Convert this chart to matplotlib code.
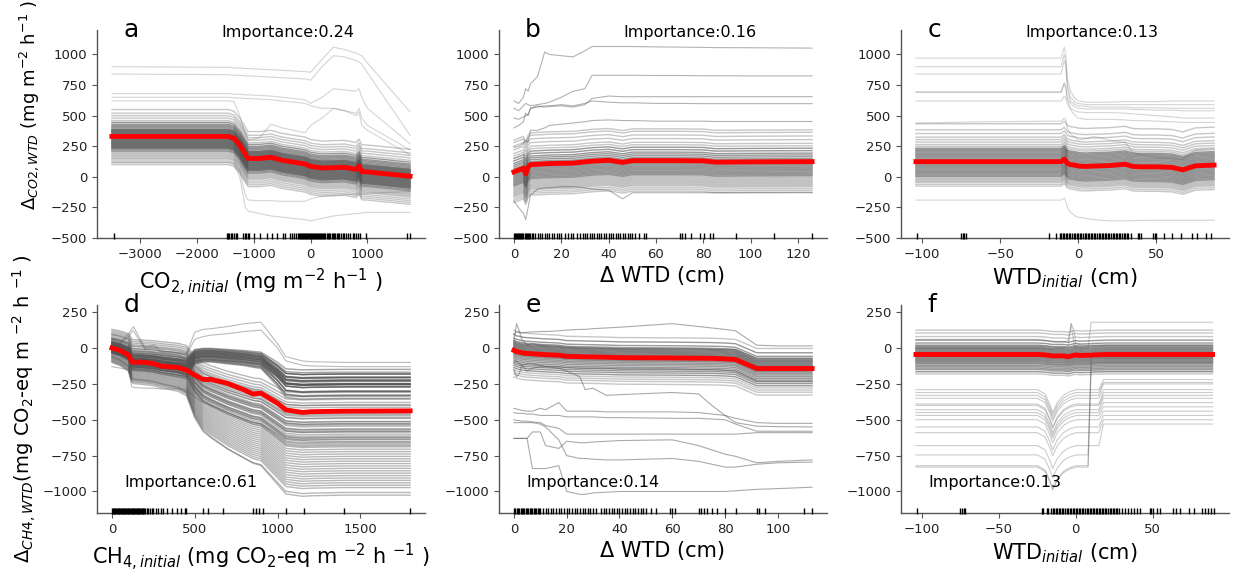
import numpy as np
import matplotlib
matplotlib.use("Agg")
import matplotlib.pyplot as plt

# ---------------- panel a : CO2 initial ----------------
XA = [-3500, -1450, -1350, -1250, -1150, -1100, -900, -700, -500, -300, -100, 0, 200, 400, 600, 800, 850, 900, 1000, 1750]
MEAN_A = [330, 330, 315, 260, 185, 150, 150, 160, 135, 120, 105, 85, 72, 75, 78, 60, 88, 42, 40, 5]
OFF_A = [-230, -215, -200, -185, -170, -160, -150, -140, -130, -120, -110, -100, -95, -90, -85, -80,
         -75, -70, -65, -60, -55, -50, -45, -40, -35, -30, -25, -20, -15, -10, -5, 0, 5, 10, 15, 20,
         25, 30, 35, 40, 45, 50, 55, 60, 70, 80, 90, 100, 115, 130, 150, 170, 190, 220]
A_OUT1 = [900, 895, 890, 890, 885, 885, 880, 875, 870, 865, 860, 855, 960, 1060, 1040, 1010, 1000, 990, 930, 530]
A_OUT2 = [840, 835, 830, 830, 825, 825, 820, 815, 810, 805, 800, 790, 900, 990, 980, 950, 940, 920, 850, 340]
A_OUT3 = [680, 680, 675, 675, 670, 670, 665, 660, 650, 640, 630, 600, 650, 720, 710, 700, 720, 650, 560, 270]
A_OUT4 = [650, 650, 645, 645, 640, 640, 635, 630, 620, 610, 600, 580, 560, 560, 540, 520, 560, 480, 420, 220]
A_OUT5 = [620, 620, 615, 500, 350, 300, 320, 430, 400, 380, 360, 420, 480, 560, 540, 500, 530, 420, 380, 180]
A_OUT6 = [120, 120, 110, 0, -250, -280, -300, -320, -330, -340, -350, -360, -340, -320, -310, -300, -300, -295, -290, -290]
A_OUT7 = [150, 150, 140, 50, -150, -190, -195, -195, -200, -200, -200, -180, -160, -150, -145, -140, -140, -140, -135, -120]
RUG_A = [-3470, -1480, -1455, -1430, -1405, -1380, -1350, -1320, -1290, -1190, -1165, -1140, -1110, -1080,
         -1000, -890, -770, -680, -600, -495, -460, -360, -330, -300, -250, -230, -210, -190, -170, -150,
         -130, -110, -95, -80, -60, -40, -25, -10, 5, 20, 40, 55, 70, 90, 110, 130, 145, 160, 180, 200,
         220, 240, 260, 280, 300, 320, 345, 370, 390, 410, 430, 460, 480, 500, 530, 560, 590, 620, 660,
         700, 740, 770, 800, 830, 860, 980, 1690, 1740]

# ---------------- panel b : delta WTD (CO2) ----------------
XB = [0, 2, 4, 5, 6, 7, 10, 13, 15, 20, 25, 30, 33, 40, 46, 50, 60, 70, 80, 85, 100, 126]
MEAN_B = [40, 55, 70, 25, 80, 100, 103, 106, 108, 110, 112, 122, 128, 135, 118, 132, 132, 132, 130, 120, 122, 124]
OFF_B = [-250, -235, -220, -205, -195, -185, -175, -165, -155, -145, -135, -125, -115, -105, -95, -85,
         -75, -65, -55, -45, -35, -25, -15, -5, 5, 15, 25, 40, 55, 70, 90, 110, 130, 150, 180, 210, 240, 260]
B_OUT1 = [620, 600, 650, 720, 700, 760, 820, 1020, 1000, 990, 980, 1030, 1065, 1065, 1065, 1065, 1062, 1060, 1058, 1056, 1055, 1052]
B_OUT2 = [560, 540, 580, 600, 590, 580, 590, 600, 610, 650, 700, 720, 830, 830, 830, 830, 828, 828, 826, 826, 825, 825]
B_OUT3 = [400, 420, 450, 520, 500, 560, 580, 570, 575, 580, 570, 590, 640, 660, 655, 655, 655, 655, 655, 655, 655, 655]
B_OUT4 = [480, 470, 490, 500, 510, 560, 570, 580, 580, 590, 580, 600, 620, 610, 605, 605, 600, 600, 598, 598, 598, 598]
B_OUT5 = [240, 250, 270, 300, 280, 380, 380, 400, 420, 430, 440, 450, 460, 465, 460, 460, 455, 455, 455, 452, 452, 452]
B_OUT6 = [-200, -250, -300, -350, -250, -150, -100, -90, -90, -80, -80, -90, -100, -110, -180, -130, -130, -130, -130, -130, -130, -130]
RUG_B = [0, 0.4, 0.8, 1.2, 1.6, 2, 2.5, 3, 3.5, 4, 4.5, 5, 5.5, 6, 6.5, 7, 7.5, 8, 9, 10, 11, 12, 13, 14,
         15, 16, 17, 18, 19, 20, 21.5, 23, 24, 25, 26.5, 28, 29, 30, 31, 32, 33, 34, 35, 36, 37, 38, 39,
         40, 41, 42, 43, 44, 45, 46, 47, 48, 49, 50, 51, 53, 55, 56, 70, 71, 72.5, 75, 78.5, 80.5, 83, 84,
         94, 110, 126]

# ---------------- panel c : WTD initial (CO2) ----------------
XC = [-104, -60, -11, -9, -8, -7, -5, -2, 0, 5, 10, 20, 30, 35, 40, 50, 60, 67, 70, 75, 87]
MEAN_C = [124, 124, 124, 145, 130, 110, 100, 95, 88, 85, 88, 92, 103, 85, 82, 82, 77, 57, 70, 90, 96]
OFF_C = [-200, -185, -170, -160, -150, -140, -130, -120, -110, -100, -90, -80, -70, -60, -50, -40, -30,
         -20, -10, 0, 10, 20, 30, 40, 50, 60, 70, 80, 90, 100, 110, 125, 140, 160, 180, 200, 230, 260, 310]
C_OUT1 = [970, 970, 970, 1060, 1000, 800, 700, 640, 620, 610, 610, 610, 615, 615, 615, 615, 620, 620, 620, 620, 620]
C_OUT2 = [900, 900, 900, 1000, 950, 760, 650, 610, 600, 590, 590, 590, 590, 590, 590, 590, 590, 590, 590, 590, 590]
C_OUT3 = [840, 840, 840, 950, 900, 720, 620, 590, 580, 575, 570, 570, 570, 565, 565, 565, 560, 560, 560, 560, 560]
C_OUT4 = [690, 690, 690, 770, 740, 650, 600, 570, 560, 555, 555, 555, 555, 550, 550, 545, 545, 540, 540, 540, 540]
C_OUT5 = [695, 695, 695, 760, 720, 630, 560, 540, 530, 525, 525, 525, 520, 515, 510, 500, 490, 480, 480, 480, 480]
C_OUT6 = [620, 620, 620, 660, 640, 600, 550, 500, 480, 470, 470, 470, 465, 460, 460, 455, 450, 445, 445, 445, 445]
C_OUT7 = [-190, -190, -190, -175, -200, -250, -290, -320, -330, -340, -350, -360, -360, -358, -356, -355, -355, -355, -355, -355, -355]
C_OUT8 = [440, 450, 455, 480, 470, 400, 350, 320, 300, 310, 330, 300, 280, 200, 180, 160, 150, 140, 170, 220, 230]
RUG_C = [-103, -75, -74, -73, -72, -19, -14, -12, -11, -10, -9, -8, -7, -6, -5, -4, -3, -2, -1, 0, 1, 2, 3,
         4, 5, 6, 7, 8, 9, 10, 11, 12, 13, 14, 15, 16, 17, 18, 19, 20, 21, 22, 23, 24, 25, 26, 27, 28, 29,
         30, 31, 32, 34, 38, 39, 40, 48, 49, 50, 55, 60, 66, 73, 76, 82, 85]

# ---------------- panel d : CH4 initial ----------------
XD = [0, 50, 100, 120, 130, 200, 250, 300, 400, 450, 500, 550, 600, 700, 800, 850, 900, 1000, 1050, 1150, 1200, 1400, 1800]
MEAN_D = [0, -16, -50, -97, -97, -100, -108, -127, -136, -154, -189, -219, -219, -247, -293, -320, -315, -385, -431, -449, -444, -440, -438]
PROF_D_UP = [60, 45, 20, -30, -35, -40, -45, -55, -70, -80, 0, 10, 10, 0, -10, -18, -25, -120, -180, -190, -188, -185, -185]
PROF_D_LO = [0, -15, -40, -90, -95, -100, -105, -115, -130, -150, -250, -310, -340, -390, -430, -450, -460, -540, -580, -590, -588, -585, -585]
UP_START = [-110, -105, -100, -95, -90, -85, -80, -76, -72, -68, -64, -60, -56, -52, -48, -44, -40, -36,
            -32, -28, -24, -20, -15, -10, -70, -50, -30, -90, -60, -40]
UP_SCALE = [1.3, 1.2, 1.25, 1.1, 1.15, 1.0, 1.2, 1.05, 0.95, 1.1, 1.0, 0.9, 1.05, 0.95, 1.0, 0.85, 0.9,
            1.0, 0.8, 0.95, 0.85, 0.8, 0.9, 0.75, 1.0, 1.1, 1.2, 0.9, 0.8, 1.0]
LO_START = [130, 120, 110, 100, 95, 90, 80, 70, 65, 60, 50, 45, 40, 30, 25, 20, 10, 5, 0, -5, -10, -15,
            -20, -25, -30, -35, -40, -45, -50, -55, -60, -65, -70, -75, -80, -85, -90, -95, -100, -60,
            60, 40, 20, 0, -20, 50, 30, 10, -10, -30, 70, 35, 15, -5, -25]
LO_SCALE = [0.75, 0.78, 0.8, 0.82, 0.84, 0.86, 0.88, 0.9, 0.92, 0.94, 0.96, 0.98, 1.0, 1.02, 1.04, 1.06,
            1.08, 1.1, 1.12, 1.14, 1.16, 1.18, 1.2, 1.22, 1.24, 1.26, 1.28, 1.3, 1.32, 1.34, 1.36, 1.38,
            1.4, 1.42, 1.44, 1.46, 1.48, 1.5, 1.55, 1.65,
            0.85, 0.9, 0.95, 1.0, 1.05, 0.88, 0.93, 0.98, 1.03, 1.08, 0.8, 0.96, 1.01, 1.06, 1.12]
D_OUT1 = [60, 40, 100, 130, 150, 0, 20, -20, -30, -40, 110, 130, 135, 150, 170, 175, 180, 30, -60, -90, -95, -100, -100]
D_OUT2 = [40, 30, 80, 110, 120, -10, 0, -30, -40, -50, 60, 80, 90, 100, 115, 120, 125, 0, -90, -120, -125, -130, -130]
D_OUT3 = [-130, -140, -150, -270, -275, -280, -280, -285, -285, -290, -340, -380, -400, -450, -500, -520, -530, -600, -640, -650, -650, -650, -650]
RUG_D = [0, 5, 10, 15, 20, 25, 30, 35, 40, 45, 50, 55, 60, 65, 70, 75, 80, 85, 90, 95, 100, 105, 110, 115, 120,
         125, 130, 135, 140, 145, 150, 155, 160, 165, 170, 175, 180, 185, 190, 195, 200, 210, 220, 230, 240,
         250, 265, 280, 295, 310, 330, 360, 390, 420, 440, 450, 550, 580, 670, 850, 870, 890, 910, 1050, 1160,
         1400, 1800]

# ---------------- panel e : delta WTD (CH4) ----------------
XE = [0, 1, 2, 3, 5, 7, 10, 12, 17, 20, 25, 27, 30, 35, 40, 60, 70, 75, 80, 84, 92, 100, 113]
MEAN_E = [-16, -25, -28, -33, -38, -40, -44, -46, -50, -58, -60, -61, -62, -64, -67, -69, -71, -72, -75, -80, -143, -143, -143]
OFF_E = [-185, -165, -150, -135, -120, -105, -92, -80, -68, -56, -45, -35, -25, -18, -10, -4, 2, 8, 14, 20,
         26, 32, 38, 44, 50, 56, 62, 70, 85, 110, 140]
E_OUT1 = [100, 110, 110, 105, 110, 112, 115, 115, 120, 125, 130, 130, 135, 140, 145, 170, 150, 140, 130, 120, 20, 15, 15]
E_OUT2 = [-100, -90, -110, -120, -110, -110, -120, -130, -140, -160, -200, -290, -280, -330, -325, -310, -320, -400, -470, -520, -545, -548, -550]
E_OUT3 = [-420, -425, -430, -435, -440, -440, -420, -430, -380, -440, -440, -440, -440, -445, -445, -445, -450, -460, -470, -490, -520, -525, -525]
E_OUT4 = [-450, -455, -455, -455, -460, -460, -470, -470, -470, -480, -480, -480, -480, -485, -485, -490, -490, -495, -500, -530, -580, -580, -580]
E_OUT5 = [-500, -505, -505, -510, -510, -515, -520, -540, -560, -600, -600, -600, -600, -600, -600, -600, -600, -600, -600, -600, -590, -590, -590]
E_OUT6 = [-630, -630, -630, -630, -630, -585, -585, -680, -700, -650, -660, -660, -655, -650, -645, -640, -680, -710, -740, -755, -800, -790, -780]
E_OUT7 = [-630, -630, -630, -630, -630, -840, -840, -840, -820, -1000, -1020, -1020, -1010, -1005, -1000, -1000, -1000, -1000, -1000, -995, -985, -980, -970]
E_OUT8 = [-520, -520, -520, -520, -520, -520, -530, -550, -640, -750, -770, -770, -775, -780, -780, -770, -790, -810, -830, -830, -810, -800, -795]
E_SPK1 = [50, 170, 120, 60, 20, 30, 20, 15, 10, 5, 0, 0, 0, -5, -5, -5, -5, -10, -10, -10, -70, -70, -70]
E_SPK2 = [-150, -200, -180, -120, -160, -140, -130, -130, -130, -135, -140, -140, -140, -140, -145, -145, -150, -150, -155, -160, -230, -230, -230]
RUG_E = [0, 0.5, 1, 1.5, 2, 2.5, 3, 3.5, 4, 4.5, 5, 5.5, 6, 6.5, 7, 7.5, 8, 8.5, 9, 9.5, 10, 11, 12, 13, 14,
         15, 16, 17, 18, 19, 20, 21, 22, 23, 24, 25, 26, 27, 28, 29, 30, 31, 33, 34, 35, 36, 37, 38, 39, 40,
         41, 42, 43, 44, 45, 46, 47, 48, 49, 50, 52, 54, 59, 60, 61, 70, 71, 72, 73, 75, 77, 80, 84, 92, 93,
         95, 110, 113]

# ---------------- panel f : WTD initial (CH4) ----------------
XF = [-104, -60, -25, -20, -17, -15, -12, -8, -5, -3, -1, 0, 3, 8, 10, 11, 15, 18, 19, 25, 40, 89]
MEAN_F = [-45, -45, -45, -48, -52, -55, -55, -55, -60, -55, -50, -48, -52, -50, -50, -48, -47, -46, -45, -45, -45, -45]
OFF_F = [-135, -120, -105, -95, -85, -75, -65, -58, -50, -43, -36, -29, -22, -15, -8, 0, 8, 15, 22, 29, 36,
         43, 50, 58, 65, 80, 100, 125, 150, 170]
DIP_F = [0, 0, 0, -30, -100, -160, -90, -40, -20, -10, -5, 0, 0, 0, 0, 0, 0, 0, 0, 0, 0, 0]
F_LEFT = [-290, -310, -330, -350, -390, -400, -430, -450, -470, -500, -550, -590, -680, -745, -820, -830]
F_RIGHT = [-220, -240, -250, -290, -310, -330, -350, -380, -410, -440, -470, -500, -530, -100, -70, -160]
F_JUMP = [18, 18, 18, 18, 18, 18, 18, 18, 18, 18, 18, 18, 18, 10, 10, 10]
F_TOP = [0, 0, 0, -5, -10, -10, -5, 0, 10, 170, 20, 0, 0, 0, 180, 180, 180, 180, 180, 180, 180, 180]
F_SPK = [60, 60, 60, 55, 50, 45, 40, 40, 50, 170, 120, 30, 20, 20, 20, 20, 20, 20, 20, 20, 20, 20]
RUG_F = [-103, -75, -74, -73, -72, -22, -21, -19, -18, -16, -15, -14, -13, -12, -11, -10, -9, -8, -7, -6,
         -5, -4, -3, -2, -1, 0, 1, 2, 3, 4, 5, 6, 7, 8, 9, 10, 11, 12, 13, 14, 15, 16, 17, 18, 19, 20, 21,
         22, 23, 24, 25, 26, 27, 28, 30, 32, 34, 36, 38, 40, 42, 48, 49, 50, 53, 55, 63, 65, 68, 74, 77, 82,
         84, 86, 88, 90]

LETTERS = ["a", "b", "c", "d", "e", "f"]
IMPORTANCE = ["Importance:0.24", "Importance:0.16", "Importance:0.13",
              "Importance:0.61", "Importance:0.14", "Importance:0.13"]
XLABELS = ["CO$_{2,initial}$ (mg m$^{-2}$ h$^{-1}$ )", "Δ WTD (cm)", "WTD$_{initial}$ (cm)",
           "CH$_{4,initial}$ (mg CO$_2$-eq m $^{-2}$ h $^{-1}$ )", "Δ WTD (cm)", "WTD$_{initial}$ (cm)"]
YLABEL_TOP = "$\\Delta_{CO2,WTD}$ (mg m$^{-2}$ h$^{-1}$ )"
YLABEL_BOT = "$\\Delta_{CH4,WTD}$(mg CO$_2$-eq m $^{-2}$ h $^{-1}$ )"

# ---------------- drawing ----------------
GRAY = "#555555"
fig = plt.figure(figsize=(12.33, 5.71), dpi=100)
W = 1233.0
H = 571.0
lefts = [97, 499, 901]
aw = 328 / W
axes = []
for r, (top, bot) in enumerate([(30, 238), (305, 513)]):
    for c in range(3):
        ax = fig.add_axes([lefts[c] / W, 1 - bot / H, aw, (bot - top) / H])
        axes.append(ax)


def gray(ax, x, y, alpha=0.3, lw=0.8):
    ax.plot(x, y, color=GRAY, alpha=alpha, lw=lw, zorder=1)


def core(ax, x, mean, offs, alpha=0.6):
    m = np.asarray(mean, float)
    for o in offs:
        a = alpha if abs(o) <= 120 else alpha * 0.55
        gray(ax, x, m + o, alpha=a, lw=1.0)


# a
ax = axes[0]
core(ax, XA, MEAN_A, OFF_A)
for ln in [A_OUT1, A_OUT2, A_OUT3, A_OUT4, A_OUT5, A_OUT6, A_OUT7]:
    gray(ax, XA, ln, alpha=0.25)
ax.plot(XA, MEAN_A, color="red", lw=3.5, zorder=3)

# b
ax = axes[1]
core(ax, XB, MEAN_B, OFF_B)
for ln in [B_OUT1, B_OUT2, B_OUT3, B_OUT4, B_OUT5, B_OUT6]:
    gray(ax, XB, ln, alpha=0.45)
ax.plot(XB, MEAN_B, color="red", lw=3.5, zorder=3)

# c
ax = axes[2]
core(ax, XC, MEAN_C, OFF_C)
for ln in [C_OUT1, C_OUT2, C_OUT3, C_OUT4, C_OUT5, C_OUT6, C_OUT7, C_OUT8]:
    gray(ax, XC, ln, alpha=0.25)
ax.plot(XC, MEAN_C, color="red", lw=3.5, zorder=3)

# d
ax = axes[3]
pu = np.asarray(PROF_D_UP, float)
pl = np.asarray(PROF_D_LO, float)
for s, k in zip(UP_START, UP_SCALE):
    gray(ax, XD, s + k * pu, alpha=0.55, lw=1.0)
for s, k in zip(LO_START, LO_SCALE):
    gray(ax, XD, s + k * pl, alpha=0.42, lw=1.0)
for ln in [D_OUT1, D_OUT2, D_OUT3]:
    gray(ax, XD, ln, alpha=0.4)
ax.plot(XD, MEAN_D, color="red", lw=3.5, zorder=3)

# e
ax = axes[4]
core(ax, XE, MEAN_E, OFF_E)
for ln in [E_OUT1, E_OUT2, E_OUT3, E_OUT4, E_OUT5, E_OUT6, E_OUT7, E_OUT8, E_SPK1, E_SPK2]:
    gray(ax, XE, ln, alpha=0.5)
ax.plot(XE, MEAN_E, color="red", lw=3.5, zorder=3)

# f
ax = axes[5]
core(ax, XF, MEAN_F, OFF_F)
xf = np.asarray(XF, float)
dip = np.asarray(DIP_F, float)
for L, R, J in zip(F_LEFT, F_RIGHT, F_JUMP):
    y = np.where(xf < J, L + dip, R)
    gray(ax, XF, y, alpha=0.3)
for ln in [F_TOP, F_SPK]:
    gray(ax, XF, ln, alpha=0.3)
ax.plot(XF, MEAN_F, color="red", lw=3.5, zorder=3)

RUGS = [RUG_A, RUG_B, RUG_C, RUG_D, RUG_E, RUG_F]
XTICKS = [[-3000, -2000, -1000, 0, 1000], [0, 20, 40, 60, 80, 100, 120], [-100, -50, 0, 50],
          [0, 500, 1000, 1500], [0, 20, 40, 60, 80, 100], [-100, -50, 0, 50]]

for i, ax in enumerate(axes):
    top_row = i < 3
    ax.vlines(RUGS[i], -0.006, 0.026, transform=ax.get_xaxis_transform(), color="black", lw=1.0, zorder=4,
              clip_on=False)
    if top_row:
        ax.set_ylim(-500, 1200)
        ax.set_yticks([-500, -250, 0, 250, 500, 750, 1000])
    else:
        ax.set_ylim(-1150, 300)
        ax.set_yticks([-1000, -750, -500, -250, 0, 250])
    ax.set_xticks(XTICKS[i])
    for s in ["top", "right"]:
        ax.spines[s].set_visible(False)
    for s in ["left", "bottom"]:
        ax.spines[s].set_color("#555555")
        ax.spines[s].set_linewidth(1.0)
    ax.tick_params(labelsize=9.5, color="#555555", labelcolor="#222222")
    ax.set_xlabel(XLABELS[i], fontsize=15)
    ax.text(0.08, 0.966, LETTERS[i], transform=ax.transAxes, fontsize=18, ha="left", va="baseline")
    if top_row:
        ax.text(0.38, 0.966, IMPORTANCE[i], transform=ax.transAxes, fontsize=11.5, ha="left", va="baseline")
    else:
        ax.text(0.082, 0.125, IMPORTANCE[i], transform=ax.transAxes, fontsize=11.5, ha="left", va="baseline")

axes[0].set_ylabel(YLABEL_TOP, fontsize=13)
axes[0].yaxis.set_label_coords(-0.171, 0.64)
axes[3].set_ylabel(YLABEL_BOT, fontsize=14)
axes[3].yaxis.set_label_coords(-0.18, 0.5)

fig.savefig("out.png", dpi=100)
